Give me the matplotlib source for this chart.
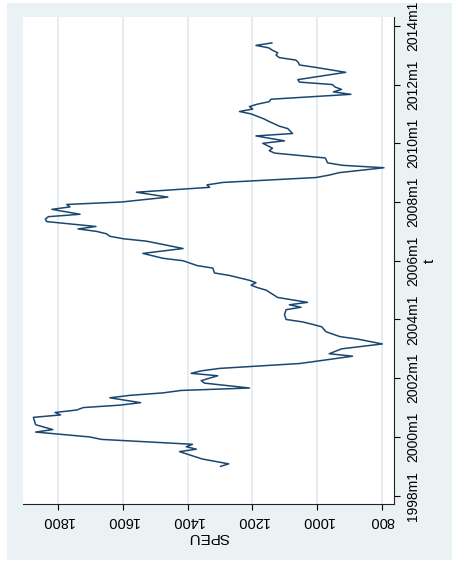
import numpy as np
import matplotlib
matplotlib.use('Agg')
import matplotlib.pyplot as plt
from matplotlib.patches import Rectangle

plt.rcParams['font.family'] = ['Liberation Sans', 'DejaVu Sans']

# monthly series, month index counted from 1998m1
months = [12, 13, 15, 18, 19, 20, 21, 23, 24, 26, 27, 29, 32, 33, 34, 35, 36, 37, 38, 40,
          41, 42, 43, 44, 46, 47, 49, 50, 51, 52, 53, 54, 55, 57, 58, 60, 62, 64, 65, 67,
          69, 70, 71, 72, 74, 76, 77, 78, 79, 80, 81, 84, 85, 86, 87, 88, 90, 91, 93, 94,
          96, 97, 99, 101, 104, 105, 106, 107, 108, 109, 110, 111, 112, 113, 114, 115, 117, 118, 119, 120,
          122, 124, 126, 127, 128, 130, 131, 132, 134, 135, 136, 138, 140, 141, 142, 144, 145, 147, 148, 150,
          151, 153, 154, 156, 157, 158, 159, 160, 161, 162, 164, 165, 166, 167, 168, 169, 170, 173, 175, 176,
          177, 178, 179, 180, 181, 182, 183, 184, 185]
speu = [1298, 1273, 1355, 1425, 1373, 1404, 1385, 1666, 1702, 1869, 1816, 1869, 1876, 1792, 1809, 1742, 1722, 1609, 1545, 1640,
        1578, 1476, 1420, 1209, 1348, 1358, 1307, 1389, 1358, 1302, 1180, 1055, 999, 891, 963, 925, 799, 876, 930, 973,
        986, 1014, 1045, 1096, 1101, 1096, 1050, 1086, 1030, 1076, 1122, 1158, 1184, 1204, 1189, 1209, 1271, 1317, 1322, 1370,
        1414, 1476, 1538, 1414, 1527, 1599, 1640, 1650, 1681, 1738, 1683, 1760, 1835, 1839, 1830, 1732, 1819, 1763, 1773, 1604,
        1461, 1558, 1332, 1340, 1291, 1004, 963, 932, 794, 922, 968, 975, 1132, 1148, 1138, 1168, 1101, 1189, 1076, 1091,
        1117, 1150, 1165, 1204, 1240, 1199, 1209, 1184, 1148, 1143, 896, 950, 925, 945, 953, 1055, 1060, 912, 1004, 1055,
        1058, 1066, 1117, 1127, 1122, 1138, 1150, 1189, 1140]

speu_ticks = [800, 1000, 1200, 1400, 1600, 1800]
t_ticks = list(range(0, 193, 24))
t_labels = ['%dm1' % (1998 + k // 12) for k in t_ticks]

fig = plt.figure(figsize=(4.53, 5.65), dpi=100)
fig.patch.set_facecolor('white')
fig.patches.append(Rectangle((7 / 453, 5 / 565), 445 / 453, 557 / 565,
                             transform=fig.transFigure, facecolor='#eaf2f3',
                             edgecolor='none', zorder=-10))

ax = fig.add_axes([23 / 453, 61 / 565, 371 / 453, 487 / 565])
ax.set_facecolor('white')

ax.plot(speu, months, color='#1a476f', lw=1.1, zorder=3)

ax.set_xlim(1908, 763)
ax.set_ylim(-3.4, 195.6)

ax.set_xticks(speu_ticks)
ax.set_xticklabels([str(v) for v in speu_ticks])
ax.set_yticks(t_ticks)
ax.set_yticklabels(t_labels)

ax.grid(axis='x', color='#e1eaed', lw=1.2, zorder=1)
ax.grid(axis='y', visible=False)

for side in ['top', 'left']:
    ax.spines[side].set_visible(False)
for side in ['bottom', 'right']:
    ax.spines[side].set_color('#222222')
    ax.spines[side].set_linewidth(0.8)

ax.yaxis.tick_right()
ax.yaxis.set_label_position('right')
ax.tick_params(axis='x', length=4.5, width=0.8, pad=3, labelsize=10.5, labelrotation=180)
ax.tick_params(axis='y', length=4.5, width=0.8, pad=4.5, labelsize=10, labelrotation=90)
for lab in ax.get_yticklabels():
    lab.set_va('center')

ax.set_xlabel('SPEU', rotation=180, fontsize=11, labelpad=1)
ax.set_ylabel('t', rotation=90, fontsize=11, labelpad=2)

fig.savefig('out.png', dpi=100)
